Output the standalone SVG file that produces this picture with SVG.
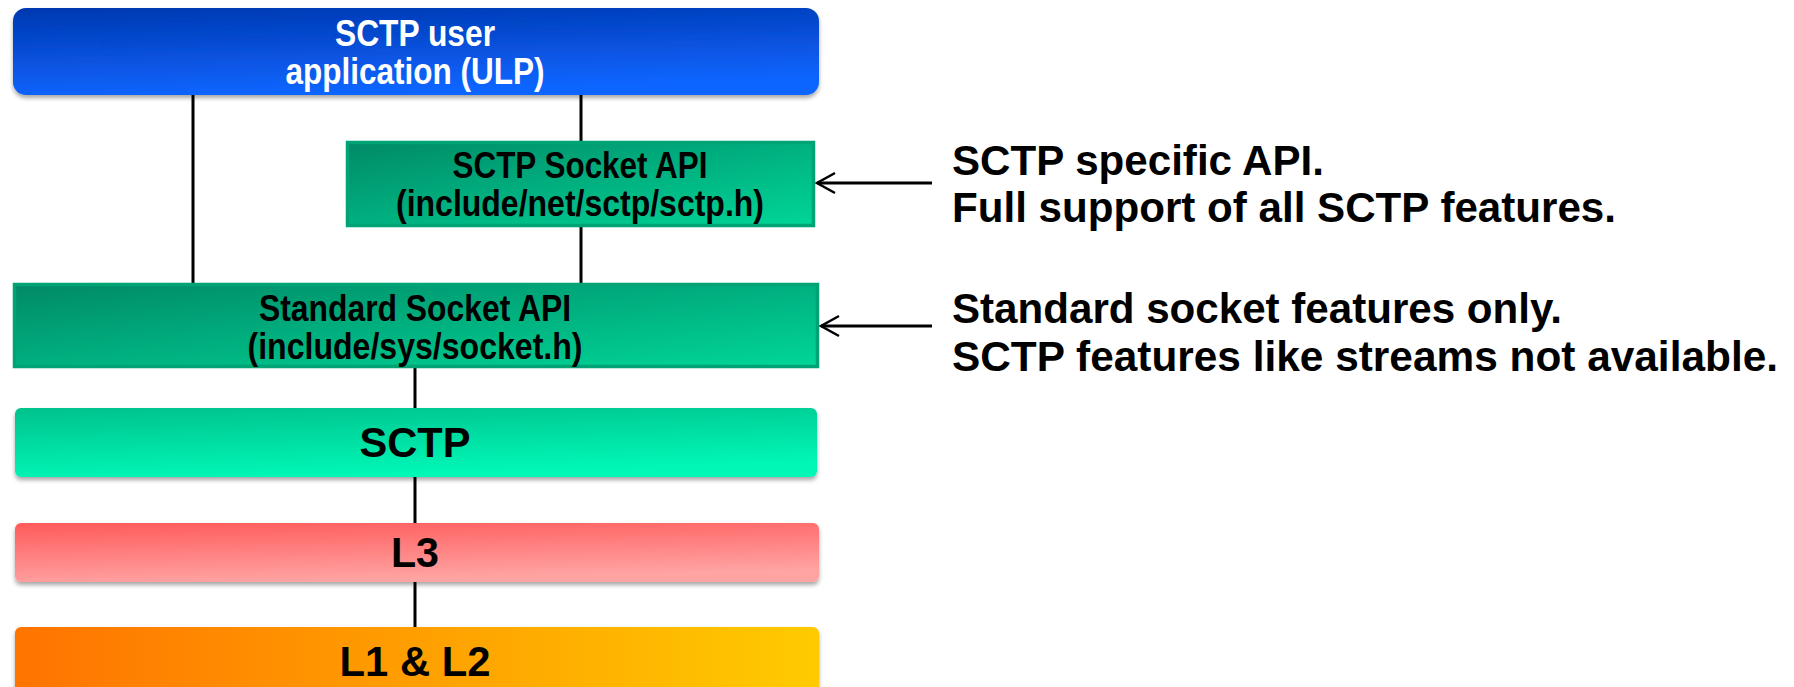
<svg xmlns="http://www.w3.org/2000/svg" width="1794" height="687" viewBox="0 0 1794 687">
<style>
text{font-family:"Liberation Sans",Arial,sans-serif;font-weight:bold;fill:#000}
.w{fill:#fff}
.s{font-size:36px}
.b{font-size:42px}
.r{font-size:42px}
.c{stroke:#000;stroke-width:3;fill:none}
.api{stroke:#00a374;stroke-width:3.5}
</style>
<defs>
<linearGradient id="gBlue" x1="0" y1="0" x2="0.25" y2="1">
<stop offset="0" stop-color="#0538b0"/><stop offset="1" stop-color="#0865ff"/>
</linearGradient>
<linearGradient id="gApi" x1="0" y1="0" x2="1" y2="1">
<stop offset="0" stop-color="#008a66"/><stop offset="1" stop-color="#00d698"/>
</linearGradient>
<linearGradient id="gSctp" x1="0" y1="0" x2="0.3" y2="1">
<stop offset="0" stop-color="#02c28d"/><stop offset="1" stop-color="#02f7b6"/>
</linearGradient>
<linearGradient id="gL3" x1="0" y1="0" x2="0.3" y2="1">
<stop offset="0" stop-color="#ff5a5a"/><stop offset="1" stop-color="#ffa3a3"/>
</linearGradient>
<linearGradient id="gL12" x1="0" y1="0" x2="1" y2="0">
<stop offset="0" stop-color="#ff7300"/><stop offset="1" stop-color="#ffcb00"/>
</linearGradient>
<filter id="sh" x="-5%" y="-20%" width="110%" height="150%">
<feDropShadow dx="0" dy="3" stdDeviation="2.2" flood-color="#000" flood-opacity="0.35"/>
</filter>
<marker id="ah" markerUnits="userSpaceOnUse" viewBox="-22 -14 26 28" refX="0" refY="0" markerWidth="26" markerHeight="28" orient="auto" overflow="visible">
<path d="M-18,-10 L0,0 L-18,10" fill="none" stroke="#000" stroke-width="2.5"/>
</marker>
</defs>

<g id="connectors">
<line class="c" x1="193" y1="94" x2="193" y2="283"/>
<line class="c" x1="581" y1="94" x2="581" y2="141"/>
<line class="c" x1="581" y1="227" x2="581" y2="283"/>
<line class="c" x1="415" y1="368" x2="415" y2="408"/>
<line class="c" x1="415" y1="477" x2="415" y2="523"/>
<line class="c" x1="415" y1="582" x2="415" y2="627"/>
<line class="c" x1="932" y1="183" x2="817" y2="183" marker-end="url(#ah)" stroke-width="2.5"/>
<line class="c" x1="932" y1="326" x2="821" y2="326" marker-end="url(#ah)" stroke-width="2.5"/>
</g>

<g id="ulp">
<rect x="13" y="8" width="806" height="87" rx="13" fill="url(#gBlue)" filter="url(#sh)"/>
<text class="s w" x="415" y="46" text-anchor="middle" textLength="160" lengthAdjust="spacingAndGlyphs">SCTP user</text>
<text class="s w" x="415" y="84" text-anchor="middle" textLength="259" lengthAdjust="spacingAndGlyphs">application (ULP)</text>
</g>

<g id="sctp-socket-api">
<rect class="api" x="347.5" y="142.5" width="466" height="83" fill="url(#gApi)"/>
<text class="s" x="580" y="178" text-anchor="middle" textLength="255" lengthAdjust="spacingAndGlyphs">SCTP Socket API</text>
<text class="s" x="580" y="216" text-anchor="middle" textLength="368" lengthAdjust="spacingAndGlyphs">(include/net/sctp/sctp.h)</text>
</g>

<g id="standard-socket-api">
<rect class="api" x="14.5" y="284.5" width="803" height="82" fill="url(#gApi)"/>
<text class="s" x="415" y="321" text-anchor="middle" textLength="312" lengthAdjust="spacingAndGlyphs">Standard Socket API</text>
<text class="s" x="415" y="359" text-anchor="middle" textLength="335" lengthAdjust="spacingAndGlyphs">(include/sys/socket.h)</text>
</g>

<g id="sctp">
<rect x="15" y="408" width="802" height="69" rx="6" fill="url(#gSctp)" filter="url(#sh)"/>
<text class="b" x="415" y="457" text-anchor="middle" textLength="111" lengthAdjust="spacingAndGlyphs">SCTP</text>
</g>

<g id="l3">
<rect x="15" y="523" width="804" height="59" rx="6" fill="url(#gL3)" filter="url(#sh)"/>
<text class="b" x="415" y="567" text-anchor="middle" textLength="48" lengthAdjust="spacingAndGlyphs">L3</text>
</g>

<g id="l1l2">
<rect x="15" y="627" width="804" height="75" rx="6" fill="url(#gL12)" filter="url(#sh)"/>
<text class="b" x="415" y="676" text-anchor="middle" textLength="151" lengthAdjust="spacingAndGlyphs">L1 &amp; L2</text>
</g>

<g id="note-sctp-api">
<text class="r" x="952" y="175" textLength="372" lengthAdjust="spacingAndGlyphs">SCTP specific API.</text>
<text class="r" x="952" y="222" textLength="664" lengthAdjust="spacingAndGlyphs">Full support of all SCTP features.</text>
</g>

<g id="note-standard-api">
<text class="r" x="952" y="323" textLength="610" lengthAdjust="spacingAndGlyphs">Standard socket features only.</text>
<text class="r" x="952" y="371" textLength="826" lengthAdjust="spacingAndGlyphs">SCTP features like streams not available.</text>
</g>
</svg>
